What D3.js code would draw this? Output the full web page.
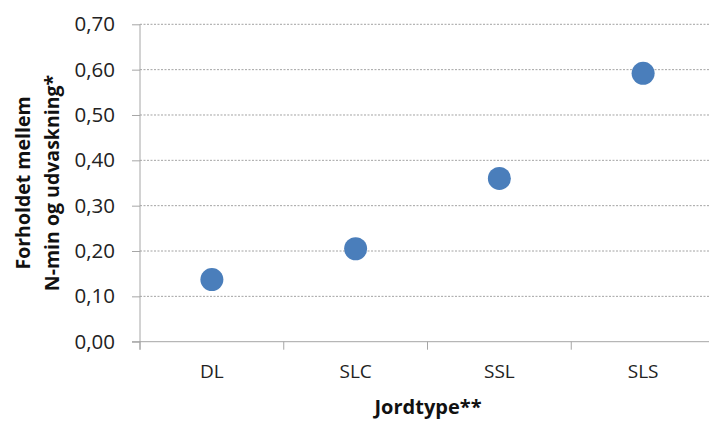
<!DOCTYPE html>
<html><head><meta charset="utf-8">
<script src="https://cdn.jsdelivr.net/npm/d3@7"></script>
<style>body{margin:0;background:#fff}svg{display:block}text{font-family:"Open Sans",sans-serif}</style>
</head><body><svg id="c" width="709" height="421"></svg>
<script>
const categories = ["DL","SLC","SSL","SLS"];
const values = [0.137, 0.205, 0.36, 0.592];
const yTicks = [0,0.1,0.2,0.3,0.4,0.5,0.6,0.7];
const yTitle = ["Forholdet mellem","N-min og udvaskning*"];
const xTitle = "Jordtype**";

const svg = d3.select("#c");
const L=140, R=715, T=24.3, B=341.7;
const x = d3.scaleBand().domain(categories).range([L,R]);
const y = d3.scaleLinear().domain([0,0.7]).range([B,T]);
const fmt = d => d.toFixed(2).replace(".",",");

// gridlines
svg.append("g").selectAll("line").data(yTicks.filter(d=>d>0)).join("line")
  .attr("x1",L).attr("x2",R).attr("y1",d=>y(d)).attr("y2",d=>y(d))
  .attr("stroke","#8c8c8c").attr("stroke-width",0.8).attr("stroke-dasharray","2,1.5");

// y axis
const ya = svg.append("g").attr("transform",`translate(${L},0)`)
  .call(d3.axisLeft(y).tickValues(yTicks).tickFormat(fmt).tickSize(8).tickPadding(17));
ya.select(".domain").attr("stroke","#a6a6a6").attr("d",`M0,${T}V${B+8}`);
ya.selectAll(".tick line").attr("stroke","#a6a6a6");
ya.selectAll(".tick text").attr("font-size",20.5).attr("fill","#222").attr("font-family","'Open Sans',sans-serif");

// x axis
const xa = svg.append("g").attr("transform",`translate(0,${B})`)
  .call(d3.axisBottom(x).tickSize(0).tickPadding(23));
xa.select(".domain").attr("stroke","#a6a6a6").attr("d",`M${L-8},0H${R}`);
xa.selectAll(".tick text").attr("font-size",19).attr("fill","#222").attr("font-family","'Open Sans',sans-serif");
svg.append("g").selectAll("line").data(d3.range(categories.length+1)).join("line")
  .attr("x1",i=>L+i*x.step()).attr("x2",i=>L+i*x.step()).attr("y1",B).attr("y2",B+8)
  .attr("stroke","#a6a6a6");

// points
svg.append("g").selectAll("circle").data(categories).join("circle")
  .attr("cx",d=>x(d)+x.bandwidth()/2).attr("cy",(d,i)=>y(values[i])).attr("r",11.5)
  .attr("fill","#4a7ebb");

// titles
const cy = (T+B)/2;
svg.append("text").attr("transform",`translate(30,${cy}) rotate(-90)`).attr("text-anchor","middle")
  .attr("font-size",19.5).attr("font-weight","bold").attr("fill","#111").text(yTitle[0]);
svg.append("text").attr("transform",`translate(59,${cy}) rotate(-90)`).attr("text-anchor","middle")
  .attr("font-size",19.5).attr("font-weight","bold").attr("fill","#111").text(yTitle[1]);
svg.append("text").attr("x",428).attr("y",414).attr("text-anchor","middle")
  .attr("font-size",20).attr("font-weight","bold").attr("fill","#111").text(xTitle);
</script></body></html>
